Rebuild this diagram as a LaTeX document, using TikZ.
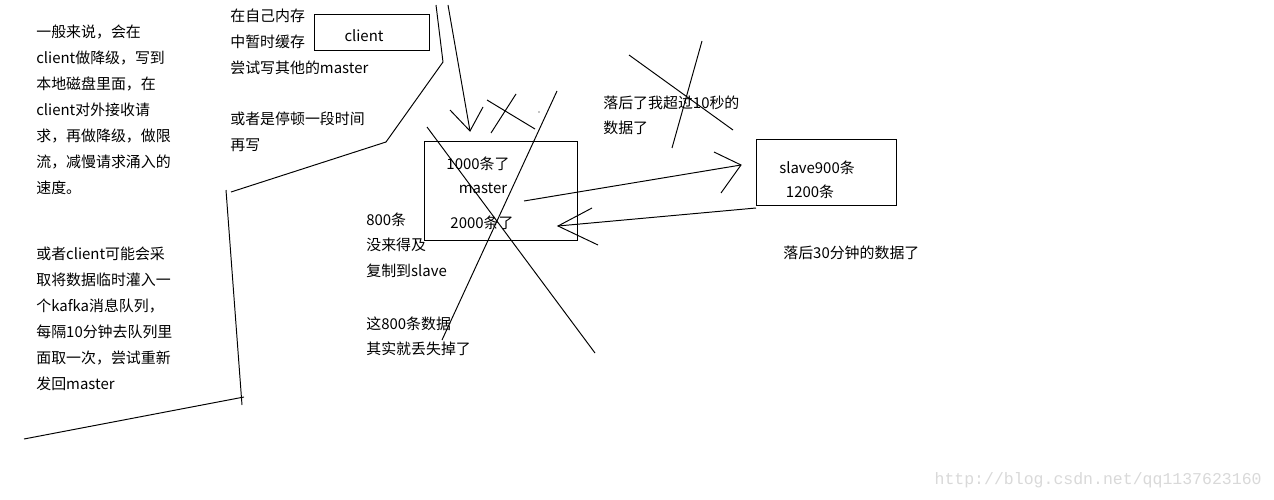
\documentclass[tikz,border=0pt]{standalone}
\usepackage{fontspec}
\setmainfont{Noto Sans CJK SC}
\newfontfamily\wmfont{Liberation Mono}
\begin{document}
\begin{tikzpicture}[x=0.02cm,y=-0.02cm,
  txt/.style={anchor=west,inner sep=0pt,font=\fontsize{8.5}{10}\selectfont},
  ctxt/.style={inner sep=0pt,font=\fontsize{8.5}{10}\selectfont},
  box/.style={draw,line width=0.55pt,inner sep=0pt,anchor=north west},
  pen/.style={line width=0.55pt},
  wm/.style={anchor=east,inner sep=0pt,text=black!15,font=\wmfont\fontsize{9.4}{10}\selectfont}]
\useasboundingbox[fill=white] (0,0) rectangle (1274,500);
% left block 1
\node[txt] (a1) at (36,32) {一般来说，会在};
\node[txt] (a2) at (36,58) {client做降级，写到};
\node[txt] (a3) at (36,84) {本地磁盘里面，在};
\node[txt] (a4) at (36,110) {client对外接收请};
\node[txt] (a5) at (36,136) {求，再做降级，做限};
\node[txt] (a6) at (36,162) {流，减慢请求涌入的};
\node[txt] (a7) at (36,188) {速度。};
% left block 2
\node[txt] (b1) at (36,254) {或者client可能会采};
\node[txt] (b2) at (36,280) {取将数据临时灌入一};
\node[txt] (b3) at (36,306) {个kafka消息队列，};
\node[txt] (b4) at (36,332) {每隔10分钟去队列里};
\node[txt] (b5) at (36,358) {面取一次，尝试重新};
\node[txt] (b6) at (36,384) {发回master};
% middle-top block
\node[txt] (c1) at (230,16) {在自己内存};
\node[txt] (c2) at (230,42) {中暂时缓存};
\node[txt] (c3) at (230,68) {尝试写其他的master};
\node[txt] (c4) at (230,119) {或者是停顿一段时间};
\node[txt] (c5) at (230,145) {再写};
% client box
\node[box,minimum width=2.3cm,minimum height=0.72cm] (client) at (314,14) {};
\node[ctxt] (clientlbl) at (364,36) {client};
% master box
\node[box,minimum width=3.06cm,minimum height=1.98cm] (master) at (424,141) {};
\node[ctxt] (m1) at (478,164) {1000条了};
\node[ctxt] (m2) at (483,188) {master};
\node[ctxt] (m3) at (482,223) {2000条了};
% slave box
\node[box,minimum width=2.8cm,minimum height=1.32cm] (slave) at (756,139) {};
\node[ctxt] (s1) at (817,168) {slave900条};
\node[ctxt] (s2) at (810,192) {1200条};
% other texts
\node[txt] (d1) at (603,103) {落后了我超过10秒的};
\node[txt] (d2) at (603,128) {数据了};
\node[txt] (e1) at (783,253) {落后30分钟的数据了};
\node[txt] (f1) at (366,220) {800条};
\node[txt] (f2) at (366,245) {没来得及};
\node[txt] (f3) at (366,271) {复制到slave};
\node[txt] (f4) at (366,324) {这800条数据};
\node[txt] (f5) at (366,349) {其实就丢失掉了};
% hand-drawn lines
\coordinate (p1) at (436,5); \coordinate (p2) at (443,62);
\coordinate (p3) at (386,142); \coordinate (p4) at (231,192);
\draw[pen] (p1) -- (p2) -- (p3) -- (p4);
\coordinate (q1) at (226,190); \coordinate (q2) at (242,405);
\draw[pen] (q1) -- (q2);
\coordinate (r1) at (24,439); \coordinate (r2) at (244,397);
\draw[pen] (r1) -- (r2);
% arrow down to master
\coordinate (t0) at (448,5); \coordinate (t1) at (470,131);
\coordinate (tl) at (450,110); \coordinate (tr) at (483,107);
\draw[pen] (t0) -- (t1); \draw[pen] (tl) -- (t1) -- (tr);
% scribbles
\coordinate (u1) at (487,100); \coordinate (u2) at (535,129);
\draw[pen] (u1) -- (u2);
\coordinate (v1) at (516,94); \coordinate (v2) at (491,133);
\draw[pen] (v1) -- (v2);
\fill (539,112) circle (0.6);
\coordinate (w1) at (557,91); \coordinate (w2) at (442,340);
\draw[pen] (w1) -- (w2);
\coordinate (x1) at (427,127); \coordinate (x2) at (595,353);
\draw[pen] (x1) -- (x2);
% master -> slave
\coordinate (ms0) at (524,201); \coordinate (ms1) at (741,165);
\coordinate (msa) at (714,152); \coordinate (msb) at (721,193);
\draw[pen] (ms0) -- (ms1); \draw[pen] (msa) -- (ms1) -- (msb);
% slave -> master
\coordinate (sm0) at (756,208); \coordinate (sm1) at (558,226);
\coordinate (sma) at (592,208); \coordinate (smb) at (598,245);
\draw[pen] (sm0) -- (sm1); \draw[pen] (sma) -- (sm1) -- (smb);
% X
\coordinate (y1) at (629,55); \coordinate (y2) at (733,130);
\draw[pen] (y1) -- (y2);
\coordinate (z1) at (702,41); \coordinate (z2) at (672,148);
\draw[pen] (z1) -- (z2);
% watermark
\node[wm] (wmk) at (1262,480) {http://blog.csdn.net/qq1137623160};
\end{tikzpicture}
\end{document}
